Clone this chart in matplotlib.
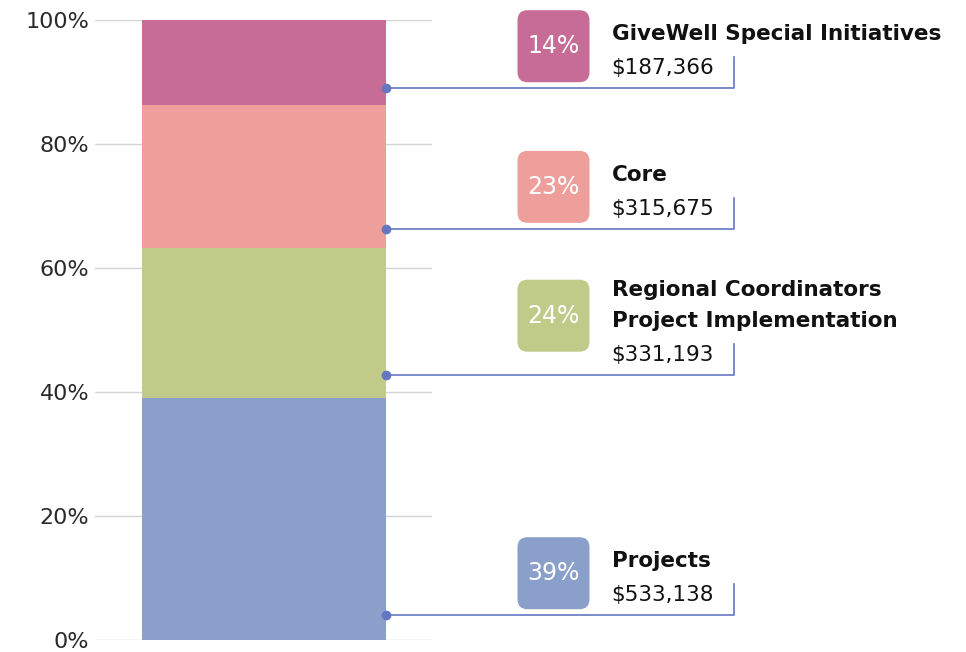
import matplotlib
matplotlib.use("Agg")
import matplotlib.pyplot as plt
from matplotlib.patches import FancyBboxPatch

# budget split, bottom segment first
categories = ["Projects", "Regional Coordinators\nProject Implementation", "Core",
              "GiveWell Special Initiatives"]
amounts = [533138, 331193, 315675, 187366]
colors = ["#8A9FC9", "#C0CB8A", "#EF9F9B", "#C76B97"]
yticks = [0, 20, 40, 60, 80, 100]
ytick_labels = ["0%", "20%", "40%", "60%", "80%", "100%"]

plt.rcParams["font.family"] = ["DejaVu Sans"]

W, H = 966, 652
fig = plt.figure(figsize=(W / 100, H / 100), dpi=100)
ax = fig.add_axes([95 / W, 12 / H, 337 / W, 620 / H])
ax.set_xlim(-0.5, 0.5)
ax.set_ylim(0, 100)

# size of one pixel in data units
px_x = 1.0 / 337
px_y = 100.0 / 620

total = sum(amounts)
shares = [a / total * 100 for a in amounts]
bar_w = 244 * px_x

bottom = 0
bottoms = []
for s, c in zip(shares, colors):
    ax.bar(0, s, bottom=bottom, width=bar_w, color=c, zorder=2)
    bottoms.append(bottom)
    bottom += s

ax.set_yticks(yticks)
ax.set_yticklabels(ytick_labels, fontsize=16, color="#2a2a2a")
ax.tick_params(axis="y", length=0, pad=4)
ax.set_xticks([])
ax.grid(axis="y", color="#d3d3d3", linewidth=1, zorder=0)
for sp in ax.spines.values():
    sp.set_visible(False)

line_col = "#6577C2"
bar_right = bar_w / 2
badge_x = bar_right + 132 * px_x
text_x = bar_right + 226 * px_x
# how far above each segment's bottom its leader dot sits
dot_lift = [4.0, 3.8, 3.1, 2.7]

fig.canvas.draw()
renderer = fig.canvas.get_renderer()

for cat, amt, s, b, c, lift in zip(categories, amounts, shares, bottoms, colors, dot_lift):
    dot_y = b + lift
    lines = cat.split("\n")
    # amount line
    amt_y = dot_y + 14 * px_y
    t = ax.text(text_x, amt_y, "${:,}".format(amt), fontsize=15.5, color="#111111",
                ha="left", va="baseline")
    # title lines, bold, stacked upward
    for i, ln in enumerate(reversed(lines)):
        ax.text(text_x, amt_y + (34 + 31 * i) * px_y, ln, fontsize=15.5,
                fontweight="bold", color="#111111", ha="left", va="baseline")
    # badge with the share
    bc = dot_y + (42 + 17 * (len(lines) - 1)) * px_y
    badge = FancyBboxPatch((badge_x, bc - 36 * px_y), 72 * px_x, 72 * px_y,
                           boxstyle="round,pad=0,rounding_size=%f" % (10 * px_x),
                           mutation_aspect=px_y / px_x, facecolor=c,
                           edgecolor="none", clip_on=False)
    ax.add_patch(badge)
    ax.text(badge_x + 36 * px_x, bc, "{:.0f}%".format(s), fontsize=17,
            color="white", ha="center", va="center")
    # leader line: dot at bar edge, across, then up
    ext = t.get_window_extent(renderer).transformed(ax.transData.inverted())
    vx = ext.x1 + 20 * px_x
    ax.plot([bar_right, vx, vx], [dot_y, dot_y, dot_y + 31 * px_y],
            color=line_col, linewidth=1.2, clip_on=False, zorder=3)
    ax.plot([bar_right], [dot_y], "o", color=line_col, markersize=6,
            clip_on=False, zorder=4)

fig.savefig("out.png", dpi=100)
